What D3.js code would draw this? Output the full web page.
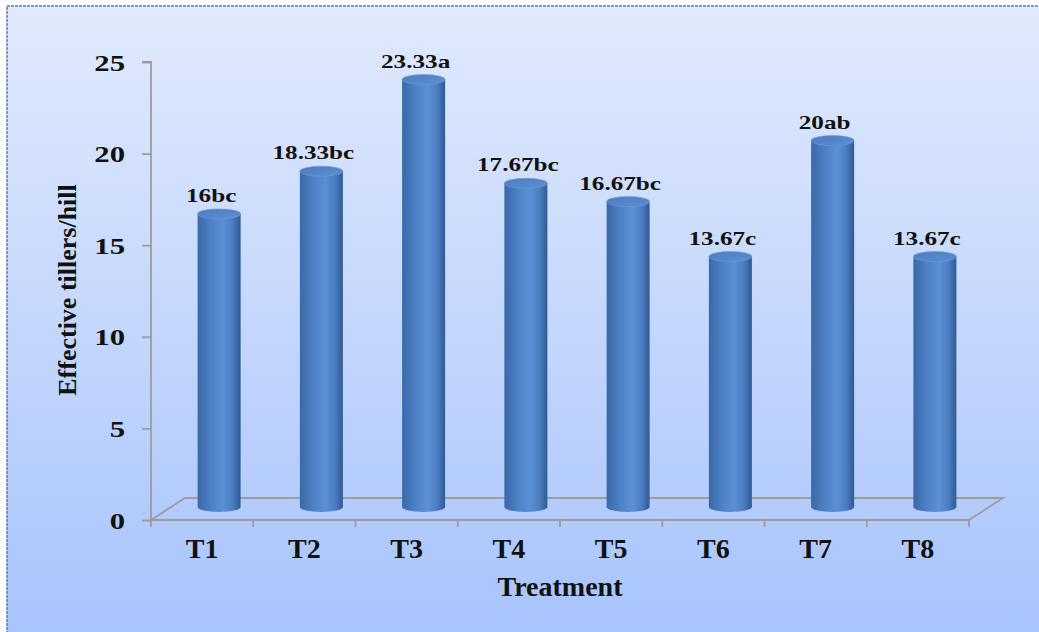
<!DOCTYPE html>
<html>
<head>
<meta charset="utf-8">
<script src="https://cdn.jsdelivr.net/npm/d3@7"></script>
<style>
  html, body { margin: 0; padding: 0; background: #ffffff; }
  svg { display: block; }
  text { font-family: "Liberation Serif", "Times New Roman", serif; font-weight: bold; fill: #111; }
</style>
</head>
<body>
<svg id="chart" width="1039" height="632"></svg>
<script>
// Effective tillers per hill for each treatment, with significance letters
const treatments = ["T1", "T2", "T3", "T4", "T5", "T6", "T7", "T8"];
const tillers = [16, 18.33, 23.33, 17.67, 16.67, 13.67, 20, 13.67];
const groups = ["bc", "bc", "a", "bc", "bc", "c", "ab", "c"];
const yTicks = [0, 5, 10, 15, 20, 25];

const svg = d3.select("#chart");
const defs = svg.append("defs");

// Panel background: pale blue fading to a deeper blue at the bottom
const bg = defs.append("linearGradient").attr("id", "bg").attr("x1", 0).attr("y1", 0).attr("x2", 0).attr("y2", 1);
bg.append("stop").attr("offset", "0%").attr("stop-color", "#e1eafc");
bg.append("stop").attr("offset", "100%").attr("stop-color", "#a6c3fd");

// Cylinder body shading, left to right
const body = defs.append("linearGradient").attr("id", "cyl").attr("x1", 0).attr("y1", 0).attr("x2", 1).attr("y2", 0);
[["0%", "#3a68a8"], ["30%", "#4d80c4"], ["60%", "#5b90d4"], ["82%", "#4a7cc0"], ["100%", "#2f5a95"]]
  .forEach(([o, c]) => body.append("stop").attr("offset", o).attr("stop-color", c));

// Cylinder cap shading
const cap = defs.append("linearGradient").attr("id", "cap").attr("x1", 0).attr("y1", 0).attr("x2", 1).attr("y2", 1);
cap.append("stop").attr("offset", "0%").attr("stop-color", "#4a7cc0");
cap.append("stop").attr("offset", "100%").attr("stop-color", "#5d8fd2");

svg.append("rect")
  .attr("x", 7).attr("y", 6).attr("width", 1050).attr("height", 650)
  .attr("fill", "url(#bg)")
  .attr("stroke", "#4a7ebf").attr("stroke-width", 1.5).attr("stroke-dasharray", "3,1");

// Scales
const x = d3.scaleBand().domain(treatments).range([151, 969]).paddingInner(0).paddingOuter(0);
const y = d3.scaleLinear().domain([0, 25]).range([520, 62]);

// Floor depth offset (oblique projection)
const dx = 34, dy = -22;
const depthX = 17, depthY = -13; // bars sit half way into the floor

const gridColor = "#9c9c9c";

// Floor outline
const floor = svg.append("g").attr("stroke", gridColor).attr("stroke-width", 1.8).attr("fill", "none");
floor.append("path")
  .attr("d", `M${x.range()[0]},${y(0)} L${x.range()[0] + dx},${y(0) + dy} L${x.range()[1] + dx},${y(0) + dy} L${x.range()[1]},${y(0)}`);

// Y axis line and ticks
const yAxis = svg.append("g").attr("transform", `translate(${x.range()[0]},0)`)
  .call(d3.axisLeft(y).tickValues(yTicks).tickSize(9).tickPadding(16).tickFormat(d3.format("d")));
yAxis.select(".domain").attr("stroke", gridColor).attr("stroke-width", 1.8).attr("d", `M-9,${y(25)}H0V${y(0)}`);
yAxis.selectAll(".tick line").attr("stroke", gridColor).attr("stroke-width", 1.8);
yAxis.selectAll(".tick text")
  .attr("font-family", null).attr("font-size", null)
  .style("font-size", "24px")
  .attr("x", null).attr("dy", null)
  .attr("transform", "translate(-26,8) scale(1.28,1)")
  .attr("text-anchor", "end");
yAxis.attr("font-family", null).attr("font-size", null);

// X axis along the floor front edge
const xAxis = svg.append("g").attr("transform", `translate(0,${y(0)})`)
  .call(d3.axisBottom(x).tickSize(0).tickPadding(0));
xAxis.attr("font-family", null).attr("font-size", null);
xAxis.select(".domain").attr("stroke", gridColor).attr("stroke-width", 1.8).attr("d", `M${x.range()[0]},0H${x.range()[1]}`);
xAxis.selectAll(".tick text").attr("dy", null).attr("y", 38).style("font-size", "28px");

// Boundary ticks between categories
svg.append("g").selectAll("line")
  .data(d3.range(treatments.length + 1))
  .join("line")
  .attr("x1", i => x.range()[0] + i * x.step()).attr("x2", i => x.range()[0] + i * x.step())
  .attr("y1", y(0)).attr("y2", y(0) + 7)
  .attr("stroke", gridColor).attr("stroke-width", 1.8);

// Cylinders
const rx = 21.5, ry = 5;
const data = treatments.map((t, i) => ({ t, v: tillers[i], g: groups[i] }));
const bars = svg.append("g").selectAll("g").data(data).join("g");

bars.append("path")
  .attr("fill", "url(#cyl)")
  .attr("d", d => {
    const cx = x(d.t) + x.bandwidth() / 2 + depthX;
    const top = y(d.v) + depthY, base = y(0) + depthY;
    return `M${cx - rx},${top} L${cx - rx},${base} A${rx},${ry} 0 0 0 ${cx + rx},${base} L${cx + rx},${top} Z`;
  });

bars.append("ellipse")
  .attr("cx", d => x(d.t) + x.bandwidth() / 2 + depthX)
  .attr("cy", d => y(d.v) + depthY)
  .attr("rx", rx).attr("ry", ry)
  .attr("fill", "url(#cap)")
  .attr("stroke", "#6f9bd6").attr("stroke-width", 0.6);

// Value labels with significance letters
bars.append("text")
  .attr("text-anchor", "middle")
  .style("font-size", "18px")
  .attr("transform", d => `translate(${x(d.t) + x.bandwidth() / 2 + 9},${y(d.v) + depthY - 12}) scale(1.4,1)`)
  .text(d => `${d.v}${d.g}`);

// Axis titles
svg.append("text")
  .attr("text-anchor", "middle")
  .style("font-size", "28px")
  .attr("x", (x.range()[0] + x.range()[1]) / 2).attr("y", 596)
  .text("Treatment");

svg.append("text")
  .attr("text-anchor", "middle")
  .style("font-size", "26px")
  .attr("transform", "translate(76,290) rotate(-90)")
  .text("Effective tillers/hill");
</script>
</body>
</html>
